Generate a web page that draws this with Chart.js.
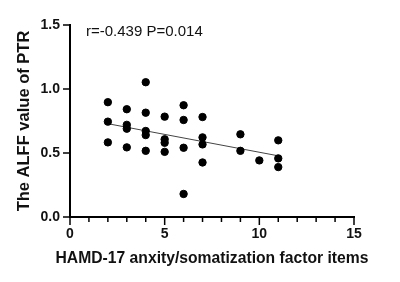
<!DOCTYPE html>
<html><head><meta charset="utf-8">
<script src="https://cdn.jsdelivr.net/npm/chart.js@4.4.1/dist/chart.umd.min.js"></script>
<style>html,body{margin:0;padding:0;background:#fff}#w{width:400px;height:282px}</style>
</head><body><div id="w"><canvas id="c" width="400" height="282"></canvas></div>
<script>
const xValues = [2,2,2, 3,3,3,3, 4,4,4,4,4, 5,5,5,5, 6,6,6,6, 7,7,7,7, 9,9, 10, 11,11,11];
const yValues = [0.897,0.745,0.583, 0.842,0.72,0.69,0.544, 1.053,0.815,0.672,0.64,0.517, 0.784,0.607,0.58,0.509, 0.873,0.758,0.541,0.18, 0.781,0.622,0.567,0.426, 0.646,0.517, 0.442, 0.599,0.458,0.39];
const fitX = [2, 11];
const fitY = [0.729, 0.478];
const xTicks = [0,5,10,15];
const yTicks = [0,0.5,1.0,1.5];
const annotation = 'r=-0.439 P=0.014';
const xTitle = 'HAMD-17 anxity/somatization factor items';
const yTitle = 'The ALFF value of PTR';

const FONT = 'Liberation Sans, Arial, sans-serif';
const points = xValues.map((x,i)=>({x, y:yValues[i]}));
const fit = fitX.map((x,i)=>({x, y:fitY[i]}));

const tickPlugin = {
  id:'ticks',
  afterDraw(chart){
    const ctx = chart.ctx, xs = chart.scales.x, ys = chart.scales.y;
    const a = chart.chartArea;
    ctx.save();
    ctx.strokeStyle = '#000'; ctx.lineWidth = 1.5;
    for (let v=0; v<=15; v++){
      const px = xs.getPixelForValue(v);
      const len = xTicks.includes(v) ? 8 : 5;
      ctx.beginPath(); ctx.moveTo(px, a.bottom); ctx.lineTo(px, a.bottom+len); ctx.stroke();
    }
    yTicks.forEach(v=>{
      const py = ys.getPixelForValue(v);
      ctx.beginPath(); ctx.moveTo(a.left-7, py); ctx.lineTo(a.left, py); ctx.stroke();
    });
    ctx.fillStyle = '#111';
    ctx.font = '15px ' + FONT;
    ctx.textBaseline = 'middle';
    ctx.textAlign = 'left';
    ctx.fillText(annotation, a.left + 16, a.top + 7);
    ctx.font = 'bold 15.7px ' + FONT;
    ctx.textAlign = 'center';
    ctx.fillText(xTitle, (a.left + a.right) / 2, a.bottom + 42);
    ctx.restore();
  }
};

new Chart(document.getElementById('c'), {
  type:'scatter',
  data:{datasets:[
    {data:fit, type:'line', borderColor:'#444', borderWidth:1, pointRadius:0, fill:false, order:2},
    {data:points, backgroundColor:'#000', borderColor:'#000', pointRadius:3.7, pointHoverRadius:3.7, order:1, clip:false}
  ]},
  options:{
    responsive:false, animation:false, devicePixelRatio:1,
    layout:{padding:{left:0,right:46,top:25,bottom:0}},
    plugins:{legend:{display:false}, tooltip:{enabled:false}},
    scales:{
      x:{type:'linear', min:0, max:15,
        afterFit(s){ s.height = 65; },
        afterBuildTicks(s){ s.ticks = xTicks.map(v=>({value:v})); },
        grid:{display:false, drawTicks:true, tickLength:8},
        border:{display:true, color:'#000', width:2},
        ticks:{color:'#111', padding:1, maxRotation:0, font:{family:FONT, size:14, weight:'bold'}},
        title:{display:false}
      },
      y:{type:'linear', min:0, max:1.5,
        afterFit(s){ s.width = 70; },
        afterBuildTicks(s){ s.ticks = yTicks.map(v=>({value:v})); },
        grid:{display:false, drawTicks:true, tickLength:8},
        border:{display:true, color:'#000', width:2},
        ticks:{color:'#111', padding:2, callback:v=>v.toFixed(1), font:{family:FONT, size:14, weight:'bold'}},
        title:{display:true, text:yTitle, color:'#111', padding:{top:15,bottom:0}, font:{family:FONT, size:16.5, weight:'bold'}}
      }
    }
  },
  plugins:[tickPlugin]
});
</script></body></html>
